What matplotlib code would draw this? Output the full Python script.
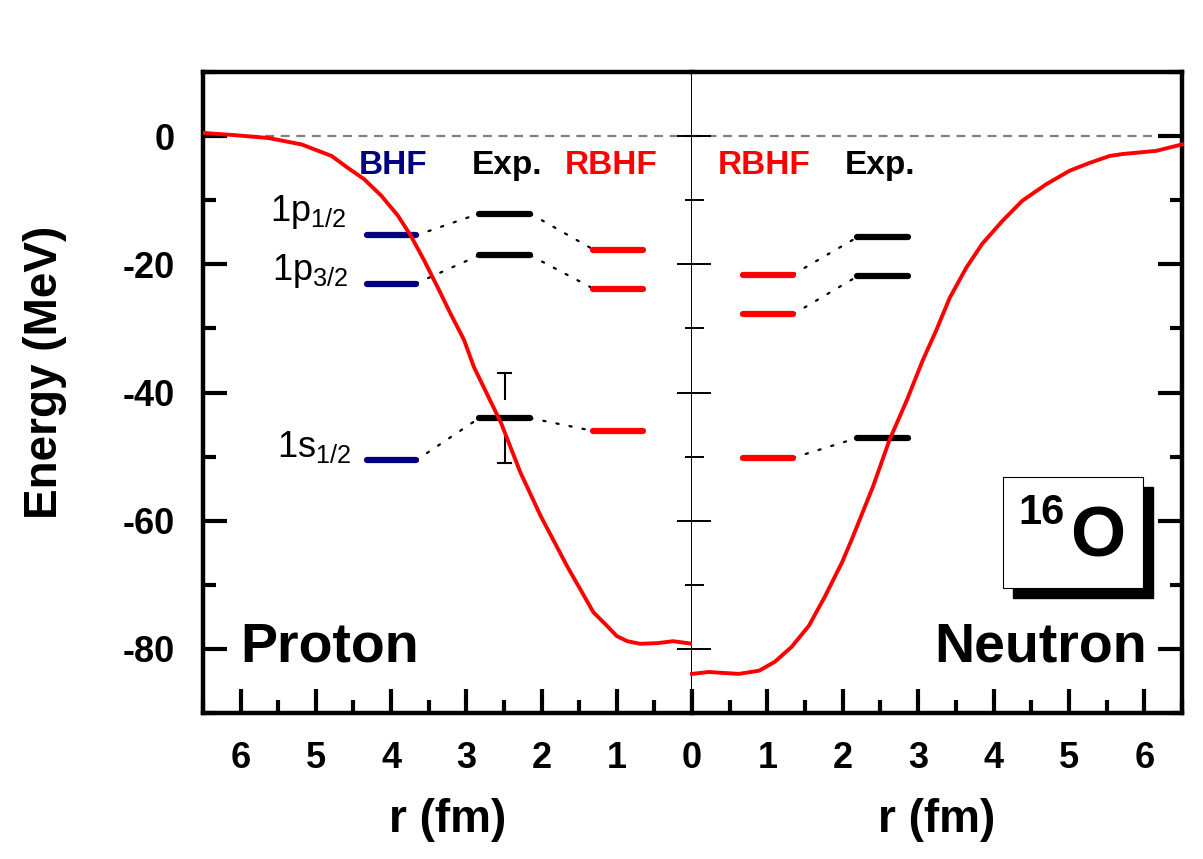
import matplotlib
matplotlib.use('Agg')
import matplotlib.pyplot as plt
from matplotlib.ticker import MultipleLocator, FuncFormatter
from matplotlib.patches import Rectangle

plt.rcParams['font.family'] = ['Liberation Sans', 'DejaVu Sans']
plt.rcParams['mathtext.fontset'] = 'custom'
plt.rcParams['mathtext.rm'] = 'Liberation Sans'
plt.rcParams['mathtext.it'] = 'Liberation Sans'
plt.rcParams['mathtext.bf'] = 'Liberation Sans:bold'
plt.rcParams['axes.unicode_minus'] = False

# ---------------- data ----------------
# proton potential (left panel)
proton_r = [0.0, 0.25, 0.46, 0.69, 0.86, 1.0, 1.13, 1.31, 1.66, 2.01, 2.28, 2.54,
            2.90, 3.03, 3.21, 3.38, 3.56, 3.74, 3.91, 4.13, 4.36, 4.57, 4.79, 5.19,
            5.63, 6.08, 6.5]
proton_V = [-79.2, -78.8, -79.1, -79.2, -78.8, -78.0, -76.4, -74.3, -67.1, -59.3,
            -52.5, -44.7, -36.0, -31.8, -27.7, -23.6, -19.4, -15.5, -12.4, -9.3,
            -6.7, -5.0, -3.1, -1.3, -0.3, 0.15, 0.5]
# neutron potential (right panel)
neutron_r = [0.0, 0.22, 0.62, 0.89, 1.10, 1.32, 1.55, 1.76, 1.99, 2.12, 2.40, 2.62,
             2.85, 3.06, 3.24, 3.42, 3.64, 3.85, 4.12, 4.38, 4.70, 5.01, 5.27, 5.54,
             5.71, 6.16, 6.5]
neutron_V = [-83.9, -83.6, -83.9, -83.4, -82.0, -79.7, -76.4, -71.9, -66.5, -62.9,
             -54.7, -47.4, -41.2, -35.0, -30.3, -25.2, -20.5, -16.8, -13.2, -10.1,
             -7.5, -5.4, -4.2, -3.1, -2.8, -2.3, -1.3]

states = ['1p$_{1/2}$', '1p$_{3/2}$', '1s$_{1/2}$']
proton_bhf = [-15.5, -23.0, -50.6]
proton_exp = [-12.1, -18.6, -44.0]
proton_rbhf = [-17.7, -23.8, -46.0]
proton_exp_err = [0.0, 0.0, 7.0]
neutron_rbhf = [-21.6, -27.8, -50.2]
neutron_exp = [-15.8, -21.9, -47.1]

BLUE = '#000080'
RED = '#ff0000'

# ---------------- figure ----------------
fig = plt.figure(figsize=(12.03, 8.59), dpi=100)
L, M, R = 203/1203, 692/1203, 1182/1203
B, T = 1 - 713/859, 1 - 72/859
axp = fig.add_axes([L, B, M - L, T - B])
axn = fig.add_axes([M, B, R - M, T - B])

for ax in (axp, axn):
    ax.set_ylim(-90, 10)
    ax.axhline(0, color='#808080', lw=1.6, ls=(0, (4, 3)), zorder=1)
    ax.xaxis.set_major_locator(MultipleLocator(1))
    ax.xaxis.set_minor_locator(MultipleLocator(0.5))
    ax.yaxis.set_major_locator(MultipleLocator(20))
    ax.yaxis.set_minor_locator(MultipleLocator(10))
    ax.tick_params(axis='both', which='both', direction='in', top=False)
    ax.tick_params(axis='x', which='major', length=17, width=3, labelsize=26, pad=20)
    ax.tick_params(axis='x', which='minor', length=9.5, width=3)
    ax.tick_params(axis='y', which='major', length=17, width=3, labelsize=26, pad=20)
    ax.tick_params(axis='y', which='minor', length=9, width=3)
    ax.set_xlabel('r (fm)', fontsize=33, fontweight='bold', labelpad=16)
    for lbl in ax.get_xticklabels() + ax.get_yticklabels():
        lbl.set_fontweight('bold')

axp.set_xlim(6.5, 0)
axn.set_xlim(0, 6.5)

# spines
for s in ('left', 'top', 'bottom'):
    axp.spines[s].set_linewidth(3.2)
axp.spines['right'].set_linewidth(1.4)
for s in ('right', 'top', 'bottom'):
    axn.spines[s].set_linewidth(3.2)
axn.spines['left'].set_visible(False)

axp.tick_params(axis='y', which='both', left=True, right=True, labelleft=True)
axn.tick_params(axis='y', which='both', left=True, right=True, labelleft=False, labelright=False)

fmt = FuncFormatter(lambda v, p: '' if abs(v) < 1e-9 else f'{v:g}')
axn.xaxis.set_major_formatter(fmt)
axp.xaxis.set_major_formatter(FuncFormatter(lambda v, p: f'{v:g}'))
axp.yaxis.set_major_formatter(FuncFormatter(lambda v, p: f'{v:g}'))

# potentials
axp.plot(proton_r, proton_V, color=RED, lw=2.8, zorder=5, solid_joinstyle='round')
axn.plot(neutron_r, neutron_V, color=RED, lw=2.8, zorder=5, clip_on=False,
         solid_joinstyle='round')

LW_LEVEL = 4.5

def levels(ax, x0, x1, vals, color):
    for v in vals:
        ax.plot([x0, x1], [v, v], color=color, lw=LW_LEVEL, solid_capstyle='round', zorder=4)

def connect(ax, xa, va, xb, vb):
    for a, b in zip(va, vb):
        ax.plot([xa, xb], [a, b], color='black', lw=1.6, ls=(0, (1, 5)),
                dash_capstyle='round', zorder=3)

# proton levels (x reversed)
bhf_x = (4.32, 3.67)
exp_x = (2.83, 2.15)
rbhf_x = (1.31, 0.65)
levels(axp, *bhf_x, proton_bhf, BLUE)
levels(axp, *exp_x, proton_exp, 'black')
levels(axp, *rbhf_x, proton_rbhf, RED)
connect(axp, bhf_x[1], proton_bhf, exp_x[0], proton_exp)
connect(axp, exp_x[1], proton_exp, rbhf_x[0], proton_rbhf)

# error bar on exp 1s (drawn outside a symbol gap)
xe = 2.49
gap = 3.0
for v, e in zip(proton_exp, proton_exp_err):
    if e > 0:
        axp.plot([xe, xe], [v + gap, v + e], color='black', lw=1.5, zorder=3)
        axp.plot([xe, xe], [v - gap, v - e], color='black', lw=1.5, zorder=3)
        axp.plot([xe - 0.09, xe + 0.09], [v + e, v + e], color='black', lw=1.5, zorder=3)
        axp.plot([xe - 0.09, xe + 0.09], [v - e, v - e], color='black', lw=1.5, zorder=3)

# neutron levels
nr_x = (0.68, 1.34)
ne_x = (2.19, 2.86)
levels(axn, *nr_x, neutron_rbhf, RED)
levels(axn, *ne_x, neutron_exp, 'black')
connect(axn, nr_x[1], neutron_rbhf, ne_x[0], neutron_exp)

# column titles
axp.text(3.97, -5.9, 'BHF', color=BLUE, fontsize=24, fontweight='bold', ha='center', va='baseline')
axp.text(2.46, -5.9, 'Exp.', color='black', fontsize=24, fontweight='bold', ha='center', va='baseline')
axp.text(1.07, -5.9, 'RBHF', color=RED, fontsize=24, fontweight='bold', ha='center', va='baseline')
axn.text(0.96, -5.9, 'RBHF', color=RED, fontsize=24, fontweight='bold', ha='center', va='baseline')
axn.text(2.49, -5.9, 'Exp.', color='black', fontsize=24, fontweight='bold', ha='center', va='baseline')

# state labels
state_pos = [(4.6, -13.2), (4.57, -22.4), (4.53, -50.0)]
for s, (x, y) in zip(states, state_pos):
    axp.text(x, y, s, fontsize=26, ha='right', va='baseline')

axp.text(6.01, -82.0, 'Proton', fontsize=40, fontweight='bold', ha='left', va='baseline')
axn.text(6.04, -82.0, 'Neutron', fontsize=40, fontweight='bold', ha='right', va='baseline')

# 16O box with shadow
bx0, by0, bw, bh = 0.635, 0.195, 0.285, 0.173
axn.add_patch(Rectangle((bx0 + 0.0204, by0 - 0.0156), bw, bh, transform=axn.transAxes,
                        facecolor='black', edgecolor='black', zorder=6, clip_on=False))
axn.add_patch(Rectangle((bx0, by0), bw, bh, transform=axn.transAxes,
                        facecolor='white', edgecolor='black', lw=0.8, zorder=7, clip_on=False))
axn.text(0.714, 0.312, '16', transform=axn.transAxes, fontsize=30, fontweight='bold',
         ha='center', va='center', zorder=8)
axn.text(0.827, 0.273, 'O', transform=axn.transAxes, fontsize=51, fontweight='bold',
         ha='center', va='center', zorder=8)

fig.text(45/1203, 1 - 372/859, 'Energy (MeV)', rotation=90, fontsize=33,
         fontweight='bold', ha='center', va='center')

# thin ticks on the middle divider
fig.canvas.draw()
for t in axp.yaxis.get_major_ticks():
    t.tick2line.set_markersize(11)
    t.tick2line.set_markeredgewidth(1.4)
for t in axp.yaxis.get_minor_ticks():
    t.tick2line.set_markersize(5)
    t.tick2line.set_markeredgewidth(1.4)
for t in axn.yaxis.get_major_ticks():
    t.tick1line.set_markersize(14)
    t.tick1line.set_markeredgewidth(1.4)
for t in axn.yaxis.get_minor_ticks():
    t.tick1line.set_markersize(8.5)
    t.tick1line.set_markeredgewidth(1.4)

fig.savefig('out.png', dpi=100)
